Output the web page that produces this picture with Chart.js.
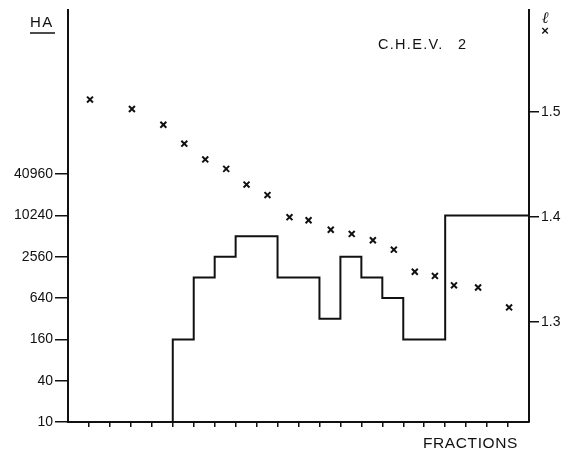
<!DOCTYPE html>
<html>
<head>
<meta charset="utf-8">
<script src="https://cdn.jsdelivr.net/npm/chart.js@4"></script>
<style>
html,body{margin:0;padding:0;background:#fff;}
#c{display:block;}
</style>
</head>
<body>
<canvas id="c" width="566" height="455"></canvas>
<script>
// ---- data ----
const fractionTicks = [1,2,3,4,5,6,7,8,9,10,11,12,13,14,15,16,17,18,19,20,21];
const haX      = [0, 5, 6, 7, 8, 10, 12, 13, 14, 15, 16, 18, 22];
const haValues = [10, 160, 1280, 2560, 5120, 1280, 320, 2560, 1280, 640, 160, 10240, 10240];
const rhoX      = [1.05, 3.05, 4.55, 5.55, 6.55, 7.55, 8.52, 9.52, 10.57, 11.48, 12.54, 13.54, 14.55, 15.55, 16.55, 17.51, 18.42, 19.57, 21.05];
const rhoValues = [1.512, 1.503, 1.488, 1.470, 1.455, 1.446, 1.431, 1.421, 1.400, 1.397, 1.388, 1.384, 1.378, 1.369, 1.348, 1.344, 1.335, 1.333, 1.314];
const leftTicks  = [10, 40, 160, 640, 2560, 10240, 40960];
const rightTicks = [1.3, 1.4, 1.5];

const INK = '#111';
const FONT = '"Liberation Sans", Arial, sans-serif';

const textPlugin = {
  id: 'annot',
  afterDraw(chart) {
    const ctx = chart.ctx;
    ctx.save();
    ctx.fillStyle = INK;
    ctx.strokeStyle = INK;
    ctx.textBaseline = 'middle';
    ctx.textAlign = 'left';
    // HA with underline
    ctx.font = '15px ' + FONT;
    ctx.letterSpacing = '1.5px';
    ctx.fillText('HA', 30, 23);
    ctx.lineWidth = 1.5;
    ctx.beginPath(); ctx.moveTo(30, 33); ctx.lineTo(55, 33); ctx.stroke();
    // title
    ctx.font = '14.5px ' + FONT;
    ctx.letterSpacing = '1.3px';
    ctx.fillText('C.H.E.V.', 378, 45);
    ctx.fillText('2', 458, 45);
    // x axis title
    ctx.font = '15.5px ' + FONT;
    ctx.letterSpacing = '0.6px';
    ctx.fillText('FRACTIONS', 423, 444);
    // right axis symbol
    ctx.letterSpacing = '0px';
    ctx.textAlign = 'center';
    ctx.font = 'italic 16px "DejaVu Serif", serif';
    ctx.fillText('ℓ', 545, 19);
    ctx.font = 'bold 13px ' + FONT;
    ctx.fillText('×', 545, 31);
    ctx.restore();
  }
};

const bg = {
  id: 'bg',
  beforeDraw(chart) {
    const ctx = chart.ctx;
    ctx.save(); ctx.fillStyle = '#fff'; ctx.fillRect(0, 0, chart.width, chart.height); ctx.restore();
  }
};

new Chart(document.getElementById('c'), {
  data: {
    datasets: [
      {
        type: 'line',
        label: 'HA',
        data: haX.map((x, i) => ({x, y: haValues[i]})),
        yAxisID: 'y',
        stepped: 'before',
        borderColor: INK,
        borderWidth: 2,
        pointRadius: 0,
        fill: false
      },
      {
        type: 'scatter',
        label: 'rho',
        data: rhoX.map((x, i) => ({x, y: rhoValues[i]})),
        yAxisID: 'y1',
        pointStyle: 'crossRot',
        pointRadius: 4.2,
        borderColor: INK,
        borderWidth: 2,
        showLine: false
      }
    ]
  },
  options: {
    responsive: false,
    animation: false,
    layout: { padding: { top: 10, left: 0, right: 0, bottom: 0 } },
    plugins: { legend: { display: false }, tooltip: { enabled: false } },
    scales: {
      x: {
        type: 'linear',
        min: 0, max: 22,
        afterBuildTicks: s => { s.ticks = fractionTicks.map(v => ({value: v})); },
        afterFit: s => { s.height = 33; },
        ticks: { callback: () => '', padding: 0, font: {size: 1} },
        grid: { drawOnChartArea: false, drawTicks: true, tickLength: 5, color: INK, lineWidth: 1.5 },
        border: { display: true, color: INK, width: 2 }
      },
      y: {
        type: 'logarithmic',
        position: 'left',
        min: 10, max: 1e7,
        afterBuildTicks: s => { s.ticks = leftTicks.map(v => ({value: v})); },
        afterFit: s => { s.width = 68; },
        ticks: { callback: v => String(v), color: INK, padding: 2, font: { family: FONT, size: 14 } },
        grid: { drawOnChartArea: false, drawTicks: true, tickLength: 13, color: INK, lineWidth: 1.5 },
        border: { display: true, color: INK, width: 2 }
      },
      y1: {
        type: 'linear',
        position: 'right',
        min: 1.2048, max: 1.597,
        afterBuildTicks: s => { s.ticks = rightTicks.map(v => ({value: v})); },
        afterFit: s => { s.width = 37; },
        ticks: { callback: v => v.toFixed(1), color: INK, padding: 2, font: { family: FONT, size: 14 } },
        grid: { drawOnChartArea: false, drawTicks: true, tickLength: 10, color: INK, lineWidth: 1.5 },
        border: { display: true, color: INK, width: 2 }
      }
    }
  },
  plugins: [bg, textPlugin]
});
</script>
</body>
</html>
